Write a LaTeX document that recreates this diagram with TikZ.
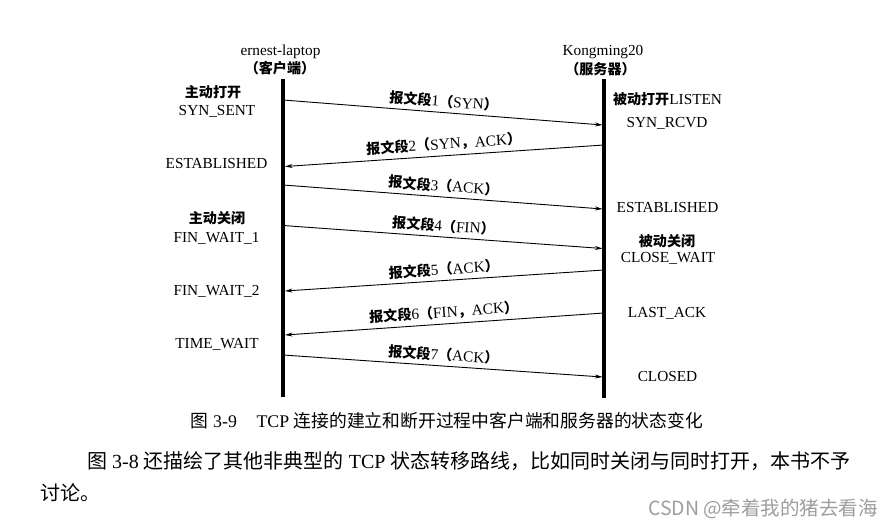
\documentclass[tikz,border=0pt]{standalone}
\usepackage{fontspec}
\setmainfont{Liberation Serif}
\newfontfamily\cjk[Scale=0.92]{Noto Sans CJK SC}
\newfontfamily\cjkb{Noto Sans CJK SC}
\newcommand{\zh}[1]{{\cjk\bfseries #1}}
\newcommand{\zhb}[1]{{\cjkb #1}}
\usetikzlibrary{arrows.meta}
\definecolor{wmgray}{HTML}{9E9E9E}
\tikzset{
  lbl/.style={font=\fontsize{15.3}{18}\selectfont, inner sep=0pt},
  timeline/.style={line width=3.5pt, line cap=butt},
  msg/.style={line width=0.9pt, -{Stealth[length=7.5pt,width=4pt]}},
  msglbl/.style={font=\fontsize{15.3}{18}\selectfont, sloped, above=4pt, inner sep=0pt, midway},
  capt/.style={font=\fontsize{17.8}{20}\selectfont, inner sep=0pt},
  para/.style={font=\fontsize{20}{24}\selectfont, inner sep=0pt},
  wm/.style={font=\fontsize{19.5}{22}\selectfont\cjkb, text=wmgray, inner sep=0pt}
}
\begin{document}
\begin{tikzpicture}[x=1pt,y=-1pt]
\useasboundingbox (0,0) rectangle (896,526);
\fill[white] (0,0) rectangle (896,526);

% headers
\node[lbl, anchor=base] (chead) at (280.5,56) {ernest-laptop};
\node[lbl] (chead2) at (280,68.5) {\zh{（客户端）}};
\node[lbl, anchor=base] (shead) at (603,56) {Kongming20};
\node[lbl] (shead2) at (600.5,69) {\zh{（服务器）}};

% timelines
\coordinate (ctop) at (283,79);
\coordinate (cbot) at (283,397);
\coordinate (stop) at (604,79);
\coordinate (sbot) at (604,398);
\draw[timeline] (ctop) -- (cbot);
\draw[timeline] (stop) -- (sbot);

% message end points
\coordinate (c1) at (283,100);  \coordinate (s1) at (602.5,125);
\coordinate (s2) at (604,145);  \coordinate (c2) at (285,166.5);
\coordinate (c3) at (283,185);  \coordinate (s3) at (602.5,209);
\coordinate (c4) at (283,225.5);\coordinate (s4) at (602.5,248.5);
\coordinate (s5) at (604,270);  \coordinate (c5) at (285,291);
\coordinate (s6) at (604,313);  \coordinate (c6) at (285,335);
\coordinate (c7) at (283,355);  \coordinate (s7) at (602.5,377);

\draw[msg] (c1) -- node[msglbl] (m1) {\zh{报文段}1\zh{（}SYN\zh{）}} (s1);
\draw[msg] (s2) -- node[msglbl] (m2) {\zh{报文段}2\zh{（}SYN\zh{，}ACK\zh{）}} (c2);
\draw[msg] (c3) -- node[msglbl] (m3) {\zh{报文段}3\zh{（}ACK\zh{）}} (s3);
\draw[msg] (c4) -- node[msglbl] (m4) {\zh{报文段}4\zh{（}FIN\zh{）}} (s4);
\draw[msg] (s5) -- node[msglbl] (m5) {\zh{报文段}5\zh{（}ACK\zh{）}} (c5);
\draw[msg] (s6) -- node[msglbl] (m6) {\zh{报文段}6\zh{（}FIN\zh{，}ACK\zh{）}} (c6);
\draw[msg] (c7) -- node[msglbl] (m7) {\zh{报文段}7\zh{（}ACK\zh{）}} (s7);

% client states
\node[lbl] (cs1a) at (213,92) {\zh{主动打开}};
\node[lbl, anchor=base] (cs1b) at (217,115.3) {SYN\_SENT};
\node[lbl, anchor=base] (cs2) at (216.5,169) {ESTABLISHED};
\node[lbl] (cs3a) at (217,218) {\zh{主动关闭}};
\node[lbl, anchor=base] (cs3b) at (216.5,242.5) {FIN\_WAIT\_1};
\node[lbl, anchor=base] (cs4) at (216.5,296) {FIN\_WAIT\_2};
\node[lbl, anchor=base] (cs5) at (217,348) {TIME\_WAIT};

% server states
\node[lbl, anchor=base] (ss1) at (667.5,105) {\zh{被动打开}LISTEN};
\node[lbl, anchor=base] (ss2) at (667,128) {SYN\_RCVD};
\node[lbl, anchor=base] (ss3) at (667.5,213) {ESTABLISHED};
\node[lbl] (ss4a) at (667,241) {\zh{被动关闭}};
\node[lbl, anchor=base] (ss4b) at (668,263) {CLOSE\_WAIT};
\node[lbl, anchor=base] (ss5) at (667,318) {LAST\_ACK};
\node[lbl, anchor=base] (ss6) at (667.5,381.5) {CLOSED};

% caption
\node[capt] (caption) at (447,421) {\zhb{图} 3-9\hspace{1.1em}TCP \zhb{连接的建立和断开过程中客户端和服务器的状态变化}};

% paragraph
\node[para, anchor=west] (para1) at (87,461) {\zhb{图} 3-8 \zhb{还描绘了其他非典型的} TCP \zhb{状态转移路线，比如同时关闭与同时打开，本书不予}};
\node[para, anchor=west] (para2) at (40,493) {\zhb{讨论。}};

% watermark
\node[wm] (wmark) at (763,509) {CSDN @牵着我的猪去看海};
\end{tikzpicture}
\end{document}
